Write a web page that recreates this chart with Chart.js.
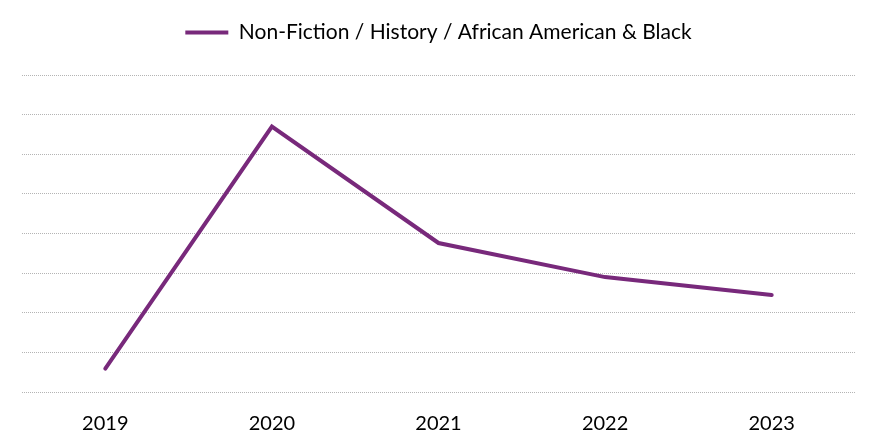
<!DOCTYPE html>
<html>
<head>
<meta charset="utf-8">
<script src="https://cdn.jsdelivr.net/npm/chart.js@4"></script>
<style>
  html, body { margin: 0; padding: 0; background: #fff; }
  #wrap { width: 878px; height: 448px; }
</style>
</head>
<body>
<div id="wrap"><canvas id="chart"></canvas></div>
<script>
// valeurs (axe Y sans étiquettes)
const years = ["2019", "2020", "2021", "2022", "2023"];
const seriesName = "Non-Fiction / History / African American & Black";
const seriesValues = [0.59, 6.70, 3.76, 2.90, 2.45];
const yTicks = [0, 1, 2, 3, 4, 5, 6, 7, 8];

const purple = "#78297B";

// espace supplémentaire sous la légende
const legendSpacer = {
    id: "legendSpacer",
    beforeInit(chart) {
        const fit = chart.legend.fit;
        chart.legend.fit = function () {
            fit.call(this);
            this.height += 22;
        };
    }
};

new Chart(document.getElementById("chart"), {
    type: "line",
    data: {
        labels: years,
        datasets: [{
            label: seriesName,
            data: seriesValues,
            borderColor: purple,
            backgroundColor: purple,
            borderWidth: 4,
            borderCapStyle: "round",
            pointRadius: 0,
            pointHoverRadius: 0,
            fill: false,
            tension: 0
        }]
    },
    plugins: [legendSpacer],
    options: {
        responsive: true,
        maintainAspectRatio: false,
        animation: false,
        layout: { padding: { left: 22, right: 23, top: 0, bottom: 0 } },
        plugins: {
            legend: {
                position: "top",
                labels: {
                    usePointStyle: true,
                    pointStyle: "line",
                    pointStyleWidth: 43,
                    boxHeight: 4,
                    color: "#000",
                    font: { family: "Lato", size: 21 },
                    padding: 22
                }
            },
            tooltip: { enabled: false }
        },
        scales: {
            x: {
                offset: true,
                grid: { display: false },
                border: { display: false },
                ticks: {
                    color: "#000",
                    font: { family: "Lato", size: 20 },
                    padding: 12
                }
            },
            y: {
                min: yTicks[0],
                max: yTicks[yTicks.length - 1],
                afterBuildTicks: axis => {
                    axis.ticks = yTicks.map(v => ({ value: v }));
                },
                ticks: { display: false },
                border: { display: false, dash: [1, 1] },
                grid: {
                    color: "#b4b4b4",
                    lineWidth: 1,
                    drawTicks: false
                }
            }
        }
    }
});
</script>
</body>
</html>
